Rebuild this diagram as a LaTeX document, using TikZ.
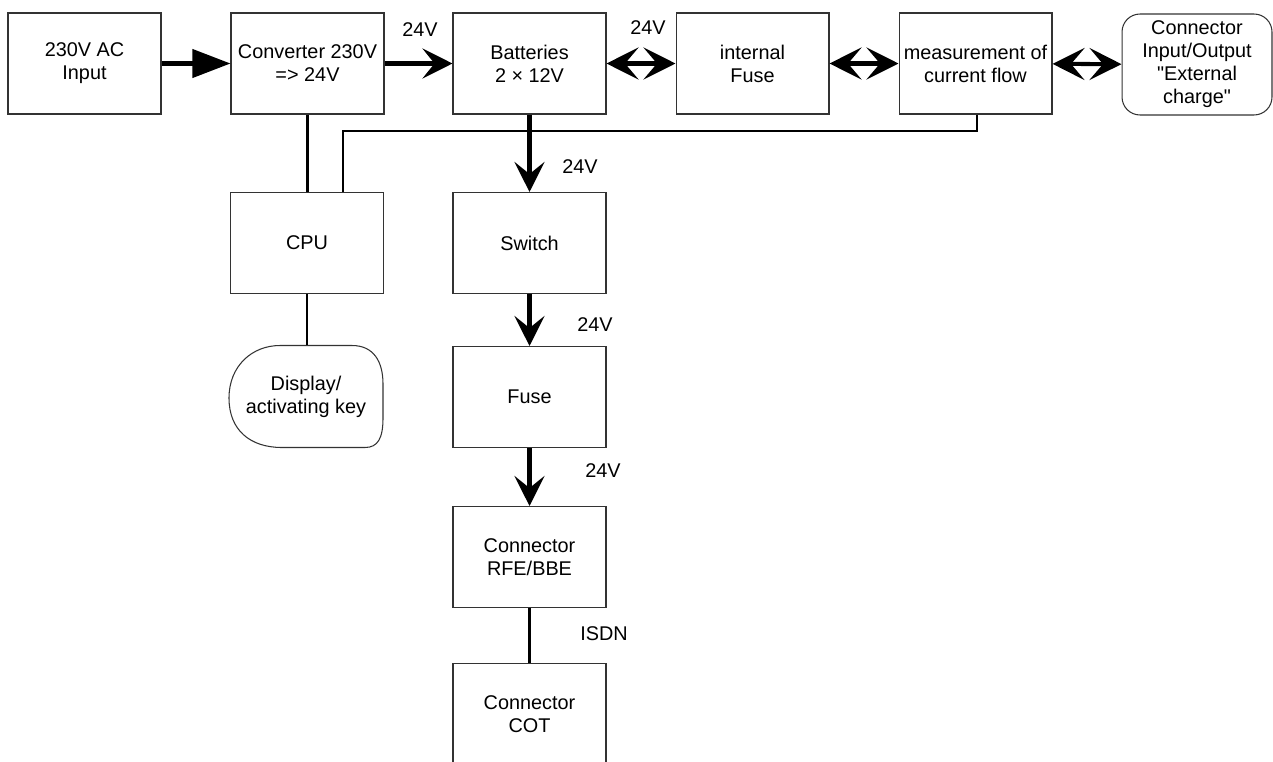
\documentclass[tikz,border=0pt]{standalone}
\usepackage{fontspec}
\setmainfont{Liberation Sans}[Ligatures=TeXOff]
\usetikzlibrary{arrows.meta}
\tikzset{
  blockbox/.style = {draw=black!80,line width=0.6pt,minimum width=3.06cm,minimum height=2.02cm,align=center,inner sep=1pt},
  portbox/.style  = {blockbox,minimum width=3.0cm,rounded corners=0.36cm},
  feedarr/.style  = {-{Triangle[length=0.76cm,width=0.56cm]},line width=2.3pt},
  powerarr/.style = {-{Stealth[length=0.6cm,width=0.6cm,inset=0.24cm]},line width=2.3pt},
  botharr/.style  = {{Stealth[length=0.64cm,width=0.64cm,inset=0.27cm]}-{Stealth[length=0.64cm,width=0.64cm,inset=0.27cm]},line width=2.3pt},
  signal/.style   = {line width=1.3pt},
  datalink/.style = {line width=1.8pt}
}

\begin{document}
\begin{tikzpicture}[x=0.02cm,y=-0.02cm,font=\fontsize{11.3}{13.1}\selectfont]
  \clip (0,0) rectangle (1273,761);
  % top row
  \node[blockbox] (inp)   at (84.5,63.5)  {230V AC\\Input};
  \node[blockbox] (conv)  at (307.5,63.5) {Converter 230V\\=> 24V};
  \node[blockbox] (bat)   at (529.5,63.5) {Batteries\\2 × 12V};
  \node[blockbox] (ifuse) at (752.5,63.5) {internal\\Fuse};
  \node[blockbox] (meas)  at (975.5,63.5) {measurement of\\current flow};
  \node[portbox]  (extio) at (1197,64.5)  {Connector\\Input/Output\\"External\\charge"};
  % left column
  \node[blockbox] (cpu)  at (307,243) {CPU};
  \node[blockbox,draw=none] (disp) at (306,396.5) {Display/\\activating key};
  \draw[black!80,line width=0.6pt] (280,345.5) -- (352,345.5)
    .. controls (374,345.5) and (383,362) .. (383,384) -- (383,418)
    .. controls (383,438) and (378,447.5) .. (365,447.5) -- (282,447.5)
    .. controls (250,447.5) and (229,430) .. (229,398)
    .. controls (229,366) and (252,345.5) .. (280,345.5) -- cycle;
  % power chain
  \node[blockbox] (sw)   at (529.5,243) {Switch};
  \node[blockbox] (fuse) at (529.5,397) {Fuse};
  \node[blockbox] (rfe)  at (529.5,557) {Connector\\RFE/BBE};
  \node[blockbox] (cot)  at (529.5,714) {Connector\\COT};
  \coordinate (bus) at (343,131);
  % connectors
  \draw[feedarr]  (inp) -- (conv);
  \draw[powerarr] (conv) -- (bat);
  \draw[botharr]  (bat) -- (ifuse);
  \draw[botharr]  (ifuse) -- (meas);
  \draw[botharr]  (meas) -- (extio);
  \draw[powerarr] (bat) -- (sw);
  \draw[powerarr] (sw) -- (fuse);
  \draw[powerarr] (fuse) -- (rfe);
  \draw[datalink] (rfe) -- (rfe |- cot.north);
  \draw[signal] (conv.south) -- (conv.south |- cpu.north);
  \draw[signal] ([xshift=0.03cm]meas.south) |- (bus) -- (bus |- cpu.north);
  \draw[signal] (cpu.south) -- (cpu.south |- disp.north);
  % labels
  \node (v1) at (420,30)  {24V};
  \node (v2) at (648,28)  {24V};
  \node (v3) at (580,167) {24V};
  \node (v4) at (595,325) {24V};
  \node (v5) at (603,471) {24V};
  \node (isdn) at (604,634) {ISDN};
\end{tikzpicture}
\end{document}
